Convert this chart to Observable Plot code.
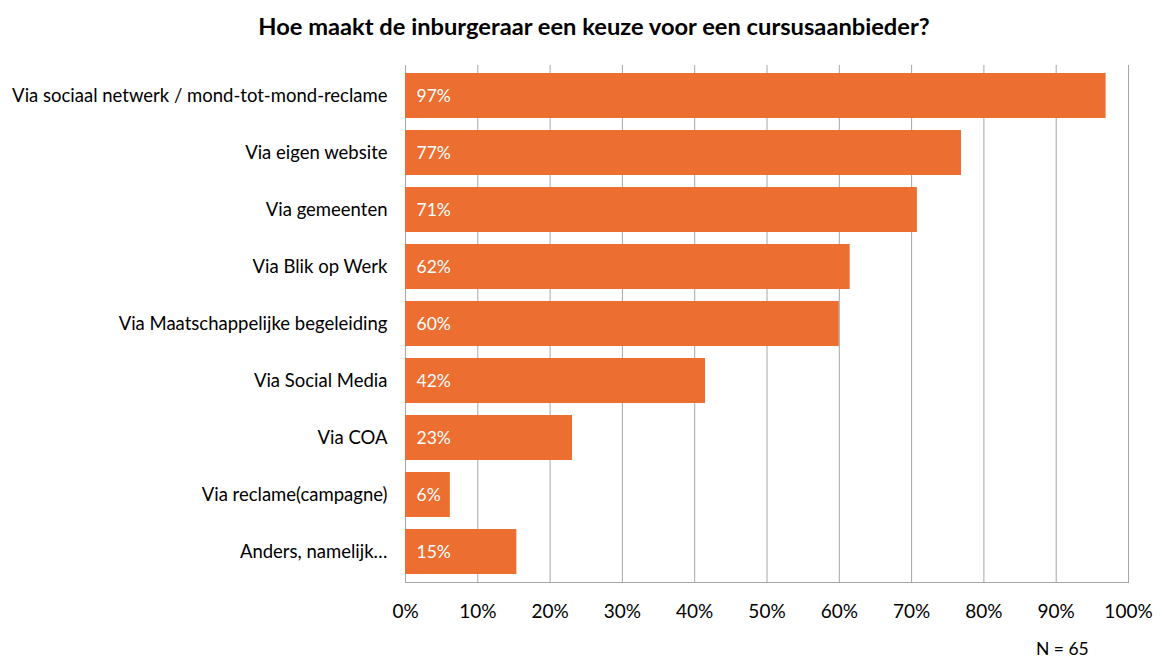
<!DOCTYPE html>
<html>
<head>
<meta charset="utf-8">
<script src="https://cdn.jsdelivr.net/npm/d3@7"></script>
<script src="https://cdn.jsdelivr.net/npm/@observablehq/plot@0.6"></script>
<style>
  html, body { margin: 0; padding: 0; background: #fff; overflow: hidden; }
  body { width: 1162px; height: 658px; position: relative; font-family: Lato, "Open Sans", sans-serif; }
  #title { position: absolute; left: 0; top: 0; width: 1162px; height: 50px; text-align: center; font-weight: bold; font-size: 23.7px; line-height: 52px; color: #000; padding-left: 26px; box-sizing: border-box; white-space: nowrap; }
  #chart { position: absolute; left: 0; top: 50px; }
  #note { position: absolute; left: 1036px; top: 642px; height: 14px; font-size: 17.5px; line-height: 14px; color: #000; white-space: nowrap; }
</style>
</head>
<body>
<div id="title">Hoe maakt de inburgeraar een keuze voor een cursusaanbieder?</div>
<div id="chart"></div>
<div id="note">N = 65</div>
<script>
const categories = [
  "Via sociaal netwerk / mond-tot-mond-reclame",
  "Via eigen website",
  "Via gemeenten",
  "Via Blik op Werk",
  "Via Maatschappelijke begeleiding",
  "Via Social Media",
  "Via COA",
  "Via reclame(campagne)",
  "Anders, namelijk…"
];
const values = [96.9, 76.9, 70.8, 61.5, 60.0, 41.5, 23.1, 6.2, 15.4];
const valueLabels = ["97%", "77%", "71%", "62%", "60%", "42%", "23%", "6%", "15%"];
const xTicks = [0, 10, 20, 30, 40, 50, 60, 70, 80, 90, 100];

const data = categories.map((c, i) => ({category: c, value: values[i], label: valueLabels[i]}));

const chart = Plot.plot({
  width: 1162,
  height: 575,
  marginLeft: 405,
  marginRight: 34,
  marginTop: 15,
  marginBottom: 43,
  style: {fontFamily: "Lato, 'Open Sans', sans-serif", color: "#000", background: "#fff"},
  x: {domain: [0, 100], ticks: xTicks, tickFormat: d => d + "%"},
  y: {domain: categories, paddingInner: 0.216, paddingOuter: 0.108},
  marks: [
    Plot.ruleX(xTicks, {stroke: "#a6a6a6", strokeWidth: 1}),
    Plot.frame({anchor: "bottom", stroke: "#a6a6a6"}),
    Plot.barX(data, {y: "category", x: "value", fill: "#ec6e30"}),
    Plot.text(data, {y: "category", x: 0, text: "label", dx: 11, textAnchor: "start", fill: "#fff", fontSize: 17.5}),
    Plot.axisX({ticks: xTicks, tickFormat: d => d + "%", tickSize: 0, tickPadding: 21.5, fontSize: 19, label: null}),
    Plot.axisY({tickSize: 0, tickPadding: 18, fontSize: 18.5, label: null})
  ]
});
document.getElementById("chart").appendChild(chart);
</script>
</body>
</html>
